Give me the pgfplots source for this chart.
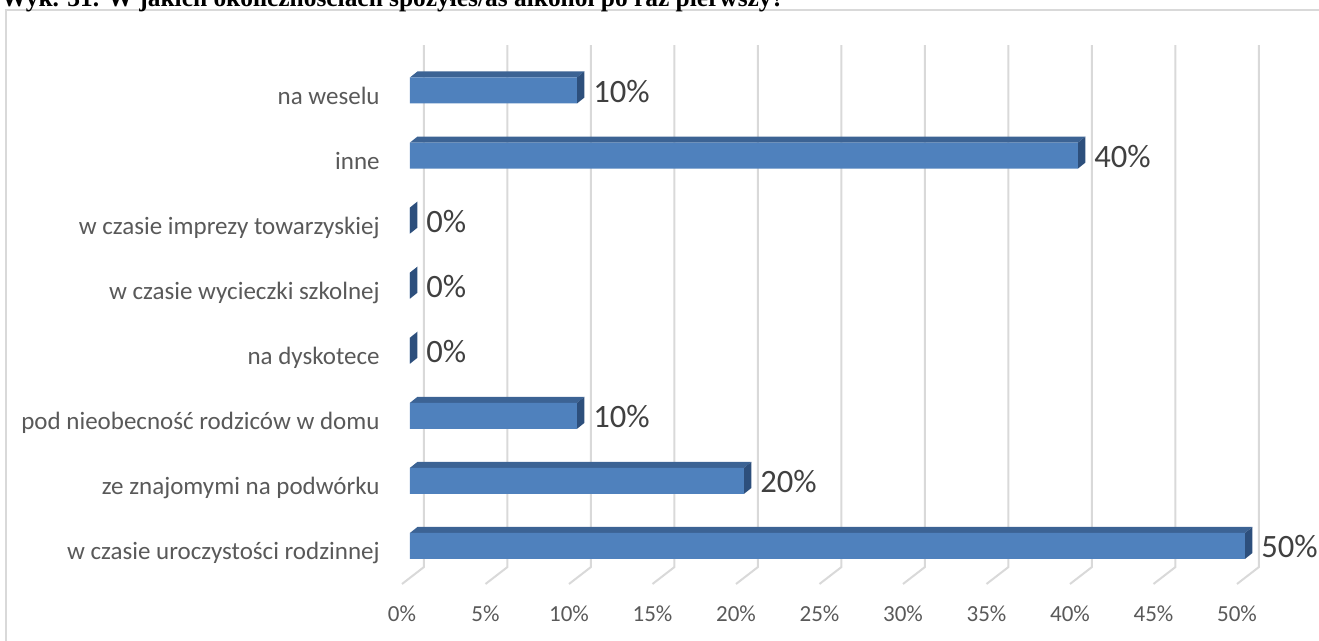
\documentclass[border=0pt]{standalone}
\usepackage{fontspec}
\setmainfont{Carlito}
\newfontfamily\titlefont{Liberation Serif}
\usepackage{pgfplots}
\usepackage{pgfplotstable}
\pgfplotsset{compat=1.18}
\definecolor{barFront}{HTML}{4F81BD}
\definecolor{barTop}{HTML}{3C6394}
\definecolor{barSide}{HTML}{2D4F7C}
\definecolor{gridc}{HTML}{D9D9D9}
\definecolor{txt}{HTML}{595959}
\definecolor{lbl}{HTML}{404040}

\pgfplotstableread{
idx v
0 50
1 20
2 10
3 0
4 0
5 0
6 40
7 10
}\data

\newcommand\barfaces[2]{%
 \pgfmathsetmacro\ya{#1+0.2}%
 \pgfmathsetmacro\yb{#1+0.292}%
 \pgfmathsetmacro\yc{#1-0.2}%
 \pgfmathsetmacro\yd{#1-0.108}%
 \pgfmathsetmacro\xa{#2+0.449}%
 \edef\tmp{%
  \noexpand\addplot[forget plot, fill=barTop, draw=none] coordinates {(0,\ya) (#2,\ya) (\xa,\yb) (0.449,\yb)} --cycle;%
  \noexpand\addplot[forget plot, fill=barSide, draw=none] coordinates {(#2,\yc) (#2,\ya) (\xa,\yb) (\xa,\yd)} --cycle;%
 }\tmp}

\begin{document}
\begin{tikzpicture}
\useasboundingbox (0,0) rectangle (659.5pt,320.5pt);
\draw[gridc, line width=0.9pt] (3pt,-20pt) -- (3pt,315.5pt) -- (700pt,315.5pt);
\node[anchor=base west, inner sep=0pt, font=\titlefont\bfseries\fontsize{12.7}{14}\selectfont] at (0.5pt,317.3pt) {Wyk. 31. W jakich okolicznościach spożyłeś/aś alkohol po raz pierwszy?};
\begin{axis}[
  at={(205pt,15pt)}, anchor=south west,
  scale only axis, width=417.5pt, height=292.8pt,
  xmin=0, xmax=50, ymin=-1, ymax=8,
  clip=false,
  axis line style={draw=none},
  tick style={draw=none},
  major tick length=0pt,
  xtick={0,5,...,50},
  xticklabels={0\%,5\%,10\%,15\%,20\%,25\%,30\%,35\%,40\%,45\%,50\%},
  xticklabel style={anchor=base, inner sep=0pt, xshift=-4pt, yshift=-5.5pt, font=\fontsize{11.5}{13}\selectfont, text=txt},
  ytick={0,...,7},
  yticklabels={w czasie uroczystości rodzinnej, ze znajomymi na podwórku, pod nieobecność rodziców w domu, na dyskotece, w czasie wycieczki szkolnej, w czasie imprezy towarzyskiej, inne, na weselu\ },
  yticklabel style={anchor=base east, inner sep=0pt, xshift=-15pt, yshift=-7pt, font=\fontsize{12.5}{14}\selectfont, text=txt},
]
\pgfplotsinvokeforeach{0,5,...,50}{
  \draw[gridc, line width=1pt] (axis cs:#1+0.838,7.698) -- (axis cs:#1+0.838,-0.324) -- (axis cs:#1-0.479,-0.585);
}
\pgfplotsinvokeforeach{0,...,7}{
  \pgfplotstablegetelem{#1}{v}\of\data
  \barfaces{#1}{\pgfplotsretval}
}
\addplot[xbar, bar width=13pt, fill=barFront, draw=none,
  point meta=x,
  nodes near coords={\pgfmathprintnumber[assume math mode=true]{\pgfplotspointmeta}\%},
  every node near coord/.append style={anchor=base west, inner sep=0pt, xshift=8pt, yshift=-6pt, font=\fontsize{16.3}{19}\selectfont, text=lbl}]
  table[x=v, y=idx]{\data};
\end{axis}
\end{tikzpicture}
\end{document}
